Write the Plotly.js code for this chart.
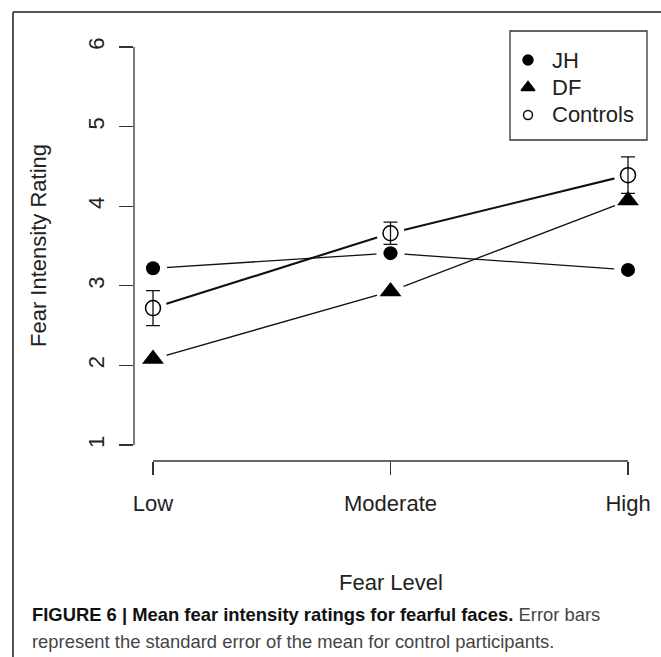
<!DOCTYPE html>
<html><head><meta charset="utf-8">
<script src="https://cdn.plot.ly/plotly-3.0.1.min.js"></script>
<style>html,body{margin:0;padding:0;background:#fff}</style>
</head><body><div id="chart" style="width:661px;height:657px"></div>
<script>
// ---- data ----
const fearLevels = ['Low', 'Moderate', 'High'];
const jhRatings = [3.22, 3.41, 3.20];
const dfRatings = [2.08, 2.93, 4.07];
const controlMeans = [2.72, 3.66, 4.39];
const controlSE = [0.22, 0.14, 0.23];
const seriesNames = ['JH', 'DF', 'Controls'];
const yTickVals = [1, 2, 3, 4, 5, 6];
const yTickText = ['1', '2', '3', '4', '5', '6'];
const xTitle = 'Fear Level';
const yTitle = 'Fear Intensity Rating';
const captionBold = 'FIGURE 6 | Mean fear intensity ratings for fearful faces.';
const captionLine1 = ' Error bars';
const captionLine2 = 'represent the standard error of the mean for control participants.';

// ---- geometry ----
const W = 661, H = 657, L = 134, R = 14, T = 31, B = 196;
const PW = W - L - R, PH = H - T - B;
const px = v => (v - L) / PW;
const py = v => (H - B - v) / PH;
const FONT = 'Liberation Sans, Arial, sans-serif';
const INK = '#000';
const axisInk = '#333';

const series = [jhRatings, dfRatings, controlMeans];
const lineWidths = [1.3, 1.3, 2.1];
const bigSymbols = [
  {symbol: 'circle', size: 14, color: INK},
  {symbol: 'triangle-up', size: 19, color: INK},
  {symbol: 'circle-open', size: 15, color: INK, line: {color: INK, width: 1.5}}
];
const keySymbols = ['circle', 'triangle-up', 'circle-open'];
const keySizes = [10, 12, 9];

const traces = [];
// connecting lines
series.forEach((s, i) => traces.push({
  type: 'scatter', mode: 'lines', x: fearLevels, y: s, showlegend: false,
  hoverinfo: 'skip', line: {color: '#111', width: lineWidths[i]}
}));
// white halos creating R-style gaps around points
series.forEach((s, i) => traces.push({
  type: 'scatter', mode: 'markers', x: fearLevels, y: s, showlegend: false,
  hoverinfo: 'skip', marker: {symbol: 'circle', size: 28, color: '#fff'}
}));
// actual points
series.forEach((s, i) => {
  const t = {
    type: 'scatter', mode: 'markers', x: fearLevels, y: s, name: seriesNames[i],
    showlegend: false, marker: bigSymbols[i]
  };
  if (i === 2) t.error_y = {type: 'data', array: controlSE, visible: true, color: '#111', thickness: 1.3, width: 7};
  traces.push(t);
});
// legend key symbols (R-style legend box)
traces.push({
  type: 'scatter', mode: 'markers', xaxis: 'x2', yaxis: 'y2',
  x: seriesNames.map(() => 0), y: seriesNames.map((_, i) => i),
  showlegend: false, hoverinfo: 'skip',
  marker: {symbol: keySymbols, size: keySizes, color: INK, opacity: 1, line: {color: INK, width: 1.4}}
});

const legendAnn = seriesNames.map((n, i) => ({
  xref: 'x2', yref: 'y2', x: 22, y: i, text: n, showarrow: false,
  xanchor: 'left', yanchor: 'middle', font: {family: FONT, size: 22, color: '#222'}
}));

const layout = {
  width: W, height: H,
  margin: {l: L, r: R, t: T, b: B, pad: 0},
  paper_bgcolor: '#fff', plot_bgcolor: '#fff',
  font: {family: FONT, color: '#222', size: 22},
  showlegend: false,
  xaxis: {
    type: 'category', range: [-0.08, fearLevels.length - 1 + 0.08],
    showgrid: false, zeroline: false, showline: false,
    ticks: 'outside', ticklen: 13, tickwidth: 1.3, tickcolor: axisInk,
    tickfont: {family: FONT, size: 22, color: '#222'}, ticklabelstandoff: 10,
    fixedrange: true
  },
  yaxis: {
    range: [0.8, 6.2], tickvals: yTickVals, ticktext: yTickText,
    showgrid: false, zeroline: false, showline: false,
    ticks: 'outside', ticklen: 14, tickwidth: 1.3, tickcolor: axisInk,
    tickangle: -90, tickfont: {family: FONT, size: 22, color: '#222'},
    ticklabelstandoff: 6, fixedrange: true
  },
  xaxis2: {domain: [px(510), 1], range: [-18, 119], visible: false, anchor: 'y2', fixedrange: true},
  yaxis2: {domain: [py(140), 1], range: [2.91, -1.055], visible: false, anchor: 'x2', fixedrange: true},
  shapes: [
    // R-style axis lines spanning only the tick range
    {type: 'line', xref: 'paper', yref: 'y', x0: 0, x1: 0,
     y0: yTickVals[0], y1: yTickVals[yTickVals.length - 1], line: {color: axisInk, width: 1.3}},
    {type: 'line', xref: 'x', yref: 'paper', x0: 0, x1: fearLevels.length - 1,
     y0: 0, y1: 0, line: {color: axisInk, width: 1.3}},
    // legend box
    {type: 'rect', xref: 'paper', yref: 'paper', x0: px(510), x1: 1, y0: py(140), y1: 1,
     line: {color: axisInk, width: 1.3}, fillcolor: 'rgba(0,0,0,0)', layer: 'above'},
    // figure frame
    {type: 'line', xref: 'paper', yref: 'paper', x0: px(13), x1: px(13), y0: py(12), y1: py(H + 2), line: {color: '#555', width: 2}},
    {type: 'line', xref: 'paper', yref: 'paper', x0: px(13), x1: px(W + 2), y0: py(12), y1: py(12), line: {color: '#555', width: 2}}
  ],
  annotations: legendAnn.concat([
    {xref: 'paper', yref: 'y', x: px(38), y: (yTickVals[0] + yTickVals[yTickVals.length - 1]) / 2,
     text: yTitle, textangle: -90, showarrow: false, xanchor: 'center', yanchor: 'middle',
     font: {family: FONT, size: 22, color: '#222'}},
    {xref: 'x', yref: 'paper', x: 1, y: py(582), text: xTitle, showarrow: false,
     xanchor: 'center', yanchor: 'middle', font: {family: FONT, size: 22, color: '#222'}},
    {xref: 'paper', yref: 'paper', x: px(30), y: py(614), xanchor: 'left', yanchor: 'middle',
     text: '<b>' + captionBold + '</b><span style="color:#444">' + captionLine1 + '</span>', showarrow: false, align: 'left',
     font: {family: FONT, size: 18.4, color: '#111'}},
    {xref: 'paper', yref: 'paper', x: px(30), y: py(641), xanchor: 'left', yanchor: 'middle',
     text: captionLine2, showarrow: false, align: 'left',
     font: {family: FONT, size: 18.4, color: '#444'}}
  ])
};

Plotly.newPlot('chart', traces, layout, {displayModeBar: false, staticPlot: true});
</script>
</body></html>
